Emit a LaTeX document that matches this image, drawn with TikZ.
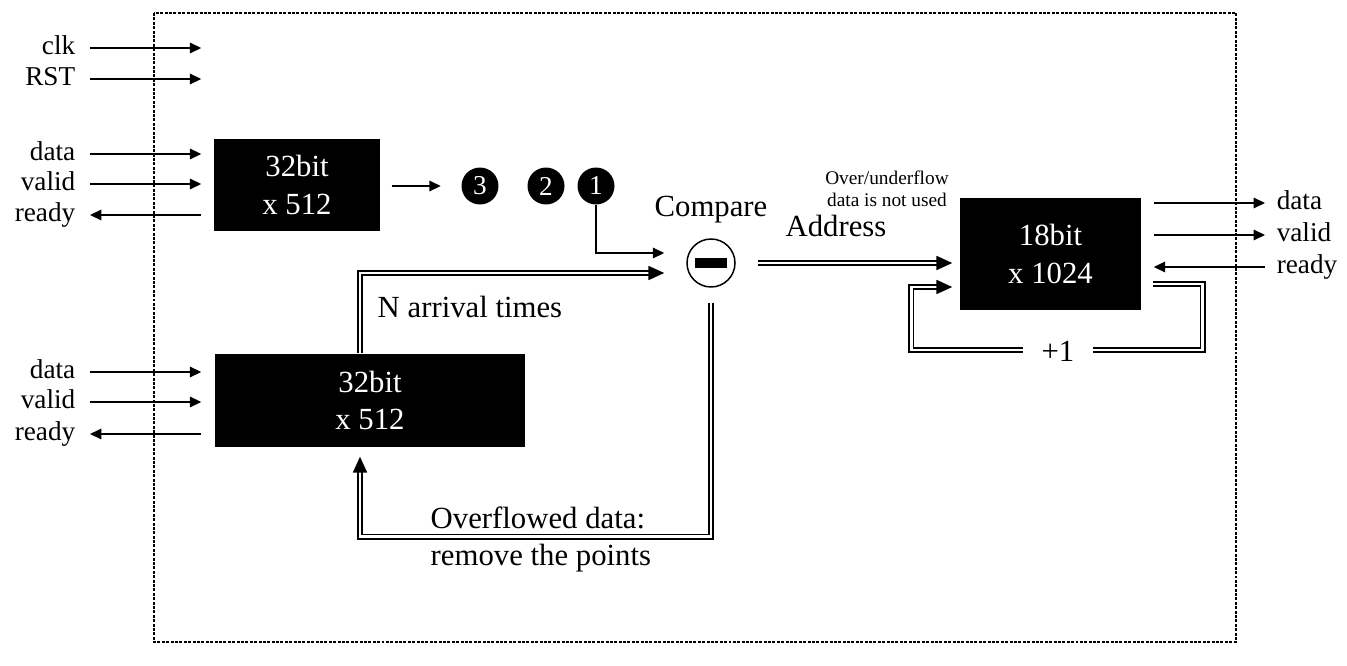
\documentclass[tikz,border=0pt]{standalone}
\usepackage{fontspec}
\setmainfont{Liberation Serif}
\usetikzlibrary{arrows.meta}

\begin{document}
\begin{tikzpicture}[
  x=0.02cm, y=-0.02cm,
  line width=0.85pt,
  port/.style={font=\fontsize{15.5}{18}\selectfont, inner sep=0pt, text height=1.6ex, text depth=0ex},
  txt/.style={font=\fontsize{17.5}{21}\selectfont, inner sep=0pt},
  note/.style={font=\fontsize{11}{12.5}\selectfont, inner sep=0pt, align=center},
  fifo/.style={fill=black, text=white, inner sep=0pt, align=center, font=\fontsize{17.5}{21.5}\selectfont},
  num/.style={circle, fill=black, text=white, minimum size=0.74cm, inner sep=0pt, font=\fontsize{15.5}{15.5}\selectfont},
  cmpnode/.style={circle, draw, minimum size=0.96cm, inner sep=0pt},
  arr/.style={-{Triangle[length=6.5pt, width=6pt]}},
  dbl/.style={double, double distance=1.5pt, -{Triangle[length=9pt, width=8pt]}},
  dotbox/.style={dash pattern=on 1.7pt off 0.8pt, line width=0.9pt}
]

\useasboundingbox (0,0) rectangle (1347,666);

%======================
% OUTER BLOCK
%======================
\draw[dotbox] (154,13) rectangle (1236,642);

% fifos
\node[fifo, minimum width=3.32cm, minimum height=1.84cm] (fA) at (297,185) {32bit\\x 512};
\node[fifo, minimum width=6.2cm, minimum height=1.86cm] (fB) at (370,400.5) {32bit\\x 512};
\node[fifo, minimum width=3.62cm, minimum height=2.24cm] (fC) at (1050.5,254) {18bit\\x 1024};

% queued points
\node[num] (n3) at (480,186) {3};
\node[num] (n2) at (546,186) {2};
\node[num] (n1) at (596,186) {1};

% comparator
\node[cmpnode] (cmp) at (711,263) {\rule[-0.1cm]{0.64cm}{0.2cm}};
\node[txt] (cmpl) at (711,210) {Compare};

%======================
% PORTS
%======================
\node[port, anchor=east] (clk) at (76,48) {clk};
\node[port, anchor=east] (rst) at (76,79) {RST};
\node[port, anchor=east] (dA) at (76,154) {data};
\node[port, anchor=east] (vA) at (76,184) {valid};
\node[port, anchor=east] (rA) at (76,215) {ready};
\node[port, anchor=east] (dB) at (76,372) {data};
\node[port, anchor=east] (vB) at (76,402) {valid};
\node[port, anchor=east] (rB) at (76,434) {ready};
\node[port, anchor=west] (dC) at (1276,203) {data};
\node[port, anchor=west] (vC) at (1276,235) {valid};
\node[port, anchor=west] (rC) at (1276,267) {ready};

% inputs
\draw[arr, shorten <=0.28cm, shorten >=0.24cm] (clk.east) -- (clk.east -| fA.west);
\draw[arr, shorten <=0.28cm, shorten >=0.24cm] (rst.east) -- (rst.east -| fA.west);
\draw[arr, shorten <=0.28cm, shorten >=0.24cm] (dA.east) -- (dA.east -| fA.west);
\draw[arr, shorten <=0.28cm, shorten >=0.24cm] (vA.east) -- (vA.east -| fA.west);
\draw[arr, shorten <=0.24cm, shorten >=0.28cm] (rA.east -| fA.west) -- (rA.east);
\draw[arr, shorten <=0.28cm, shorten >=0.26cm] (dB.east) -- (dB.east -| fB.west);
\draw[arr, shorten <=0.28cm, shorten >=0.26cm] (vB.east) -- (vB.east -| fB.west);
\draw[arr, shorten <=0.26cm, shorten >=0.28cm] (rB.east -| fB.west) -- (rB.east);

% outputs
\draw[arr, shorten <=0.24cm, shorten >=0.22cm] (dC.west -| fC.east) -- (dC.west);
\draw[arr, shorten <=0.24cm, shorten >=0.22cm] (vC.west -| fC.east) -- (vC.west);
\draw[arr, shorten <=0.22cm, shorten >=0.24cm] (rC.west) -- (rC.west -| fC.east);

%======================
% DATA PATH
%======================
\draw[arr, shorten <=0.22cm, shorten >=0.4cm] (fA.east |- n3.west) -- (n3.west);
\draw[arr, shorten >=0.44cm] (n1.south) |- ([yshift=0.2cm]cmp.west);

% arrival times in, overflow back
\draw[dbl, shorten >=0.44cm] ([xshift=-0.2cm]fB.north) |- ([yshift=-0.2cm]cmp.west);
\draw[dbl, shorten <=0.3cm, shorten >=0.18cm] (cmp.south) -- ++(0,249) -| ([xshift=-0.2cm]fB.south);
\node[txt, anchor=base west] (arrl) at (377,317) {N arrival times};
\node[txt, anchor=north west, align=left] (ovfl) at (430,506) {Overflowed data:\\remove the points};

% address into histogram
\draw[dbl, shorten <=0.44cm, shorten >=0.14cm] (cmp.east) -- (cmp.east -| fC.west);
\node[txt] (addr) at (836,226) {Address};
\node[note] (unused) at (887,189) {Over/underflow\\data is not used};

% increment loop
\draw[dbl, shorten <=0.22cm, shorten >=0.14cm] ([yshift=-0.6cm]fC.east) -| ++(61,66)
  -| ([xshift=-0.96cm,yshift=-0.66cm]fC.west) -- ([yshift=-0.66cm]fC.west);
\node[txt, fill=white, minimum width=1.4cm, minimum height=0.5cm] (plus) at (1058,351) {+1};

\end{tikzpicture}
\end{document}
